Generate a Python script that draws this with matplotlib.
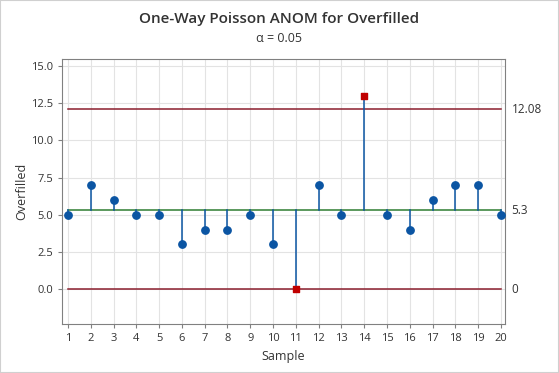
import matplotlib.pyplot as plt
import numpy as np

samples = list(range(1, 21))
overfilled = [5, 7, 6, 5, 5, 3, 4, 4, 5, 3, 0, 7, 5, 13, 5, 4, 6, 7, 7, 5]
center = 5.3
upper = 12.08
lower = 0.0
limit_labels = ["12.08", "5.3", "0"]
yticks = [0.0, 2.5, 5.0, 7.5, 10.0, 12.5, 15.0]

plt.rcParams['font.family'] = ['Open Sans', 'DejaVu Sans']

fig = plt.figure(figsize=(5.59, 3.73), dpi=100)
ax = fig.add_axes([62 / 559, 1 - 324 / 373, 443 / 559, 265 / 373])

blue = '#0B55A3'
red = '#C00000'
limit_col = '#8B1E2E'
green = '#2E7D32'

# limits and center
ax.plot([samples[0], samples[-1]], [upper, upper], color=limit_col, lw=1.1, zorder=2)
ax.plot([samples[0], samples[-1]], [lower, lower], color=limit_col, lw=1.1, zorder=2)
ax.plot([samples[0], samples[-1]], [center, center], color=green, lw=1.1, zorder=2)

# stems
for s, v in zip(samples, overfilled):
    ax.plot([s, s], [center, v], color=blue, lw=1.1, zorder=3)

vals = np.array(overfilled)
x = np.array(samples)
out = (vals > upper) | (vals < lower + 1e-9)
ax.scatter(x[~out], vals[~out], s=28, color=blue, zorder=4)
ax.scatter(x[out], vals[out], s=18, marker='s', color=red, zorder=4)

ax.set_xlim(0.74, 20.18)
ax.set_ylim(-2.35, 15.47)
ax.set_xticks(samples)
ax.set_yticks(yticks)
ax.set_yticklabels([f"{t:.1f}" for t in yticks])
ax.grid(True, color='#E3E3E3', lw=0.8, zorder=0)
ax.set_axisbelow(True)
for sp in ax.spines.values():
    sp.set_color('#808080')
ax.tick_params(colors='#333333', labelsize=8, length=3, color='#808080')
ax.set_xlabel("Sample", fontsize=9, color='#333333')
ax.set_ylabel("Overfilled", fontsize=9, color='#333333', labelpad=2)

for val, lab in zip([upper, center, lower], limit_labels):
    ax.text(1.015, val, lab, transform=ax.get_yaxis_transform(), va='center', ha='left',
            fontsize=8.5, color='#333333')

fig.text(0.5, 1 - 19 / 373, "One-Way Poisson ANOM for Overfilled", ha='center', va='center',
         fontsize=11, fontweight='semibold', color='#333333')
fig.text(0.5, 1 - 39 / 373, "α = 0.05", ha='center', va='center', fontsize=9, color='#333333')

fig.patches.append(plt.Rectangle((0, 0), 1, 1, transform=fig.transFigure, fill=False,
                                 edgecolor='#D0D0D0', lw=1.5))

fig.savefig("out.png", dpi=100)
